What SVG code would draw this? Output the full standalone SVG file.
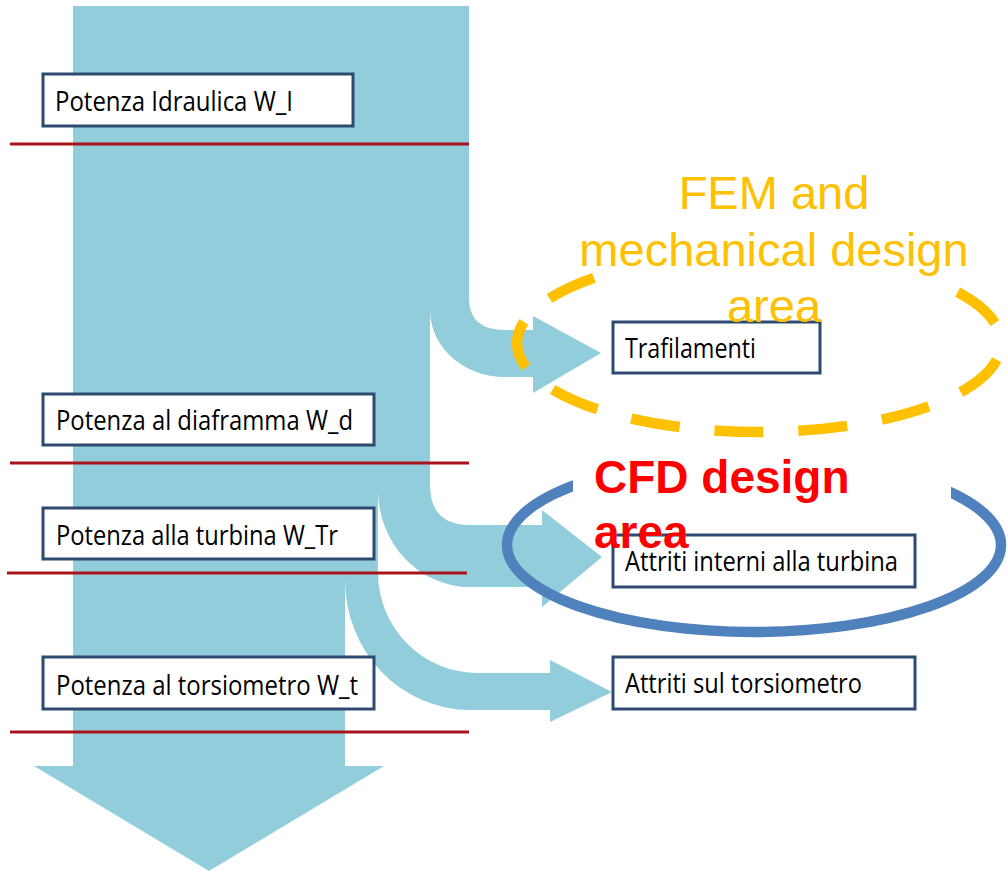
<svg xmlns="http://www.w3.org/2000/svg" width="1007" height="873" viewBox="0 0 1007 873">
<style>
.flow{fill:#92CDDC;stroke:none}
.sep{stroke:#A8141C;stroke-width:3;fill:none}
.box rect{fill:#FFFFFF;stroke:#2E4A70;stroke-width:3}
.box text{font-family:"Open Sans","Liberation Sans",sans-serif;font-size:27.5px;fill:#000000}
.fem{font-family:"Liberation Sans",Arial,sans-serif;font-size:47px;fill:#FFC000;text-anchor:middle}
.cfd{font-family:"Liberation Sans",Arial,sans-serif;font-size:46px;font-weight:bold;fill:#FF0000}
</style>
<rect x="0" y="0" width="1007" height="873" fill="#FFFFFF"/>
<g id="connectors">
<path class="flow" d="M73,6 L469,6 L469,298 Q469,330 505,330 L533,330 L533,316 L601,353 L533,393 L533,377 L505,377 A75,67 0 0 1 430,310 L430,485 Q430,525 470,525 L542,525 L542,510 L602,557 L542,607 L542,587 L470,587 A92,97 0 0 1 378,490 L378,573 A100,100 0 0 0 478,673 L550,673 L550,660 L612,692 L550,722 L550,710 L470,710 A125,130 0 0 1 345,580 L345,766 L384,766 L209,871 L34,766 L73,766 Z"/>
<line class="sep" x1="10" y1="144" x2="469" y2="144"/>
<line class="sep" x1="10" y1="463" x2="469" y2="463"/>
<line class="sep" x1="7" y1="573" x2="467" y2="573"/>
<line class="sep" x1="10" y1="732" x2="469" y2="732"/>
</g>
<g id="fem-area">
<ellipse cx="759" cy="343" rx="242" ry="89" fill="none" stroke="#FFC000" stroke-width="10.5" stroke-dasharray="49 35" stroke-dashoffset="66.5"/>
<rect x="597" y="165" width="331" height="135" fill="#FFFFFF"/>
</g>
<g id="cfd-area">
<ellipse cx="754" cy="545" rx="247" ry="87" fill="none" stroke="#4F81BD" stroke-width="10.5"/>
<rect x="573" y="450" width="378" height="55" fill="#FFFFFF"/>
</g>
<g id="n-idraulica" class="box">
<rect x="43" y="74" width="310" height="52"/>
<text x="55" y="111" textLength="238" lengthAdjust="spacingAndGlyphs">Potenza Idraulica W_I</text>
</g>
<g id="n-diaframma" class="box">
<rect x="43" y="394" width="331" height="51"/>
<text x="56" y="430" textLength="297" lengthAdjust="spacingAndGlyphs">Potenza al diaframma W_d</text>
</g>
<g id="n-turbina" class="box">
<rect x="43" y="508" width="331" height="51"/>
<text x="56" y="545" textLength="282" lengthAdjust="spacingAndGlyphs">Potenza alla turbina W_Tr</text>
</g>
<g id="n-torsiometro" class="box">
<rect x="43" y="657" width="331" height="52"/>
<text x="56" y="695" textLength="302" lengthAdjust="spacingAndGlyphs">Potenza al torsiometro W_t</text>
</g>
<g id="n-trafilamenti" class="box">
<rect x="613" y="322" width="207" height="51"/>
<text x="625" y="358" textLength="131" lengthAdjust="spacingAndGlyphs">Trafilamenti</text>
</g>
<g id="n-attriti-turbina" class="box">
<rect x="613" y="535" width="302" height="52"/>
<text x="625" y="571" textLength="273" lengthAdjust="spacingAndGlyphs">Attriti interni alla turbina</text>
</g>
<g id="n-attriti-torsiometro" class="box">
<rect x="613" y="657" width="302" height="52"/>
<text x="625" y="693" textLength="237" lengthAdjust="spacingAndGlyphs">Attriti sul torsiometro</text>
</g>
<g id="label-fem">
<text class="fem" x="774" y="209">FEM and</text>
<text class="fem" x="774" y="266">mechanical design</text>
<text class="fem" x="774" y="322">area</text>
</g>
<g id="label-cfd">
<text class="cfd" x="594" y="493">CFD design</text>
<text class="cfd" x="594" y="548">area</text>
</g>
</svg>
